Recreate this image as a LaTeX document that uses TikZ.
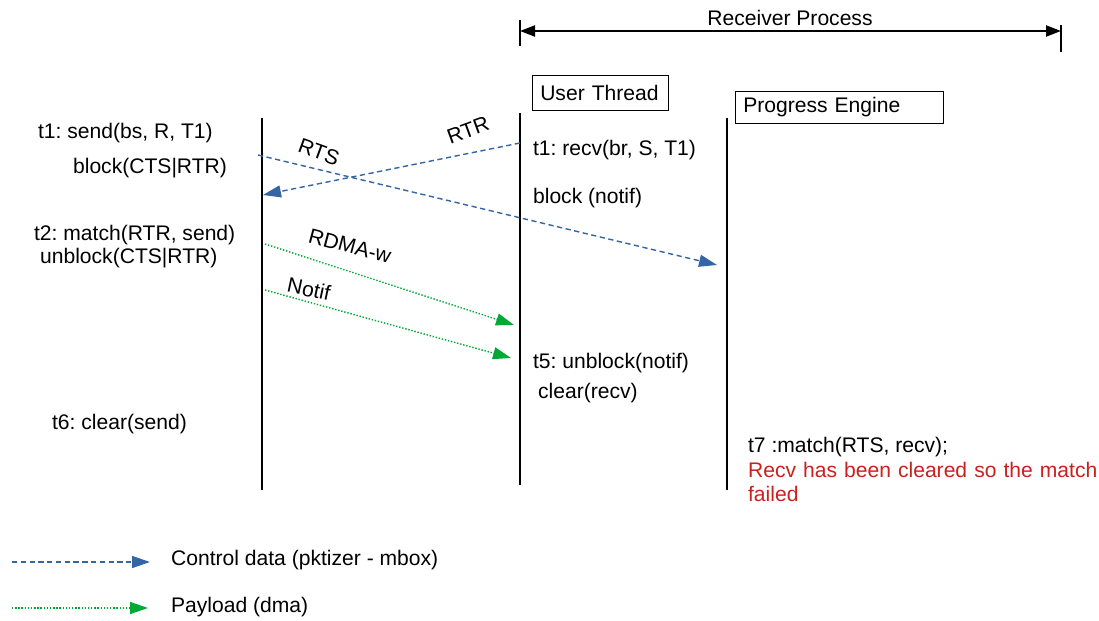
\documentclass[tikz,border=0pt]{standalone}
\usepackage{fontspec}
\setmainfont{Liberation Sans}
\frenchspacing
\usetikzlibrary{arrows.meta}
\definecolor{ctrlblue}{RGB}{52,101,164}
\definecolor{dmagreen}{RGB}{0,169,51}
\definecolor{failred}{RGB}{201,33,30}
\begin{document}
\begin{tikzpicture}[x=0.02cm, y=-0.02cm,
	every node/.style = {font=\fontsize{12}{13.2}\selectfont, inner sep=1pt},
	txt/.style = {anchor=west},
	lane/.style = {line width=1.3pt},
	ctrl/.style = {ctrlblue, densely dashed, line width=0.8pt,
		-{Triangle[length=3.6mm, width=2.4mm]}},
	dma/.style = {dmagreen, densely dotted, line width=0.8pt,
		-{Triangle[length=3.6mm, width=2.4mm]}},
	role/.style = {draw, line width=0.4pt, inner xsep=4.5pt, inner ysep=0pt,
		anchor=west, align=left}]
	\useasboundingbox (0,0) rectangle (1099,621);
	% receiver process span
	\coordinate (pl) at (520,31);
	\coordinate (pr) at (1061,31);
	\draw[line width=1pt] (520,20) -- (520,46);
	\draw[line width=1pt] (1061,25) -- (1061,52);
	\draw[line width=1.2pt, {Triangle[length=3mm, width=2.2mm]}-{Triangle[length=3mm, width=2.2mm]}] (pl) -- (pr);
	\node (recv) at (790,18) {Receiver Process};
	% roles
	\node[role, text width=120*0.02cm, minimum height=35*0.02cm] (user) at (532,93) {User Thread};
	\node[role, text width=192*0.02cm, minimum height=32*0.02cm] (prog) at (735,107) {Progress Engine};
	% lifelines
	\draw[lane] (262,118) -- (262,490);
	\draw[lane] (520,113) -- (520,485);
	\draw[lane] (727,118) -- (727,490);
	% sender side
	\node[txt] (s1) at (36,133) {t1: send(bs, R, T1)};
	\node[txt] (s2) at (71,168) {block(CTS|RTR)};
	\node[txt] (s3) at (32,235) {t2: match(RTR, send)};
	\node[txt] (s4) at (38,258) {unblock(CTS|RTR)};
	\node[txt] (s5) at (50,424) {t6: clear(send)};
	% user thread
	\node[txt] (u1) at (531,150) {t1: recv(br, S, T1)};
	\node[txt] (u2) at (531,198) {block (notif)};
	\node[txt] (u3) at (531,363) {t5: unblock(notif)};
	\node[txt] (u4) at (536,393) {clear(recv)};
	% progress engine
	\node[txt] (p1) at (746,447) {t7 :match(RTS, recv);};
	\node[txt, text=failred, align=left, text width=360*0.02cm] (p2) at (746,482)
		{Recv has been cleared so the match\\failed};
	% messages
	\coordinate (rtsA) at (258,155);
	\coordinate (rtsB) at (717,265);
	\coordinate (rtrA) at (520,143);
	\coordinate (rtrB) at (263,195);
	\coordinate (wrA) at (265,244);
	\coordinate (wrB) at (514,325);
	\coordinate (ntA) at (265,290);
	\coordinate (ntB) at (511,358);
	\draw[ctrl] (rtsA) -- (rtsB);
	\draw[ctrl] (rtrA) -- (rtrB);
	\draw[dma] (wrA) -- (wrB);
	\draw[dma] (ntA) -- (ntB);
	\node[rotate=-20, inner sep=0pt] (lrts) at (319,152) {RTS};
	\node[rotate=20, inner sep=0pt] (lrtr) at (468,130) {RTR};
	\node[rotate=-15, inner sep=0pt] (lwr) at (350,246) {RDMA-w};
	\node[rotate=-12, inner sep=0pt] (lnt) at (309,289) {Notif};
	% legend
	\coordinate (k1a) at (12,562);
	\coordinate (k1b) at (150,562);
	\coordinate (k2a) at (12,608);
	\coordinate (k2b) at (148,608);
	\draw[ctrl] (k1a) -- (k1b);
	\draw[dma] (k2a) -- (k2b);
	\node[txt] (k1) at (169,560) {Control data (pktizer - mbox)};
	\node[txt] (k2) at (169,607) {Payload (dma)};
\end{tikzpicture}
\end{document}
